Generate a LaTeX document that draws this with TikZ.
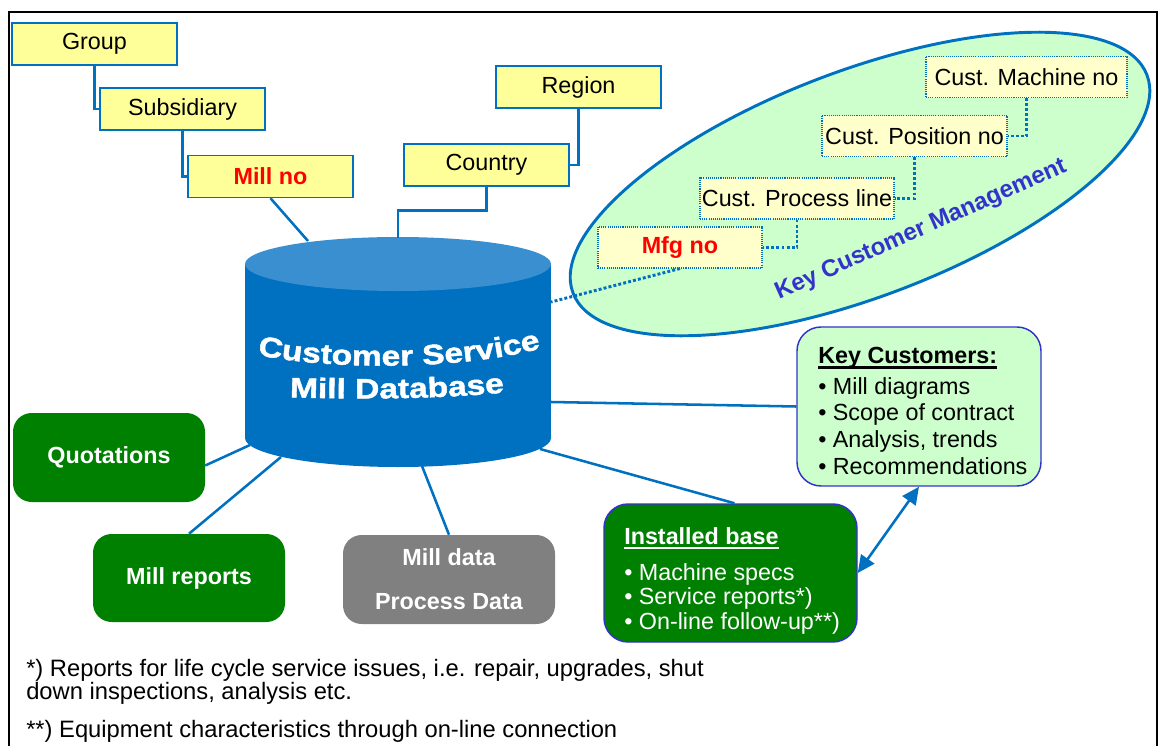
\documentclass[tikz,border=0pt]{standalone}
\usepackage{fontspec}
\setmainfont{Liberation Sans}
\newfontfamily\dbfont[FakeStretch=1.2,FakeBold=1.6]{Liberation Sans}
\usetikzlibrary{arrows.meta,decorations.text}

\definecolor{linkblue}{HTML}{0070C0}
\definecolor{dbtop}{HTML}{3A8FD0}
\definecolor{paleyellow}{HTML}{FFFF99}
\definecolor{creamyellow}{HTML}{FFFFCC}
\definecolor{mint}{HTML}{CCFFCC}
\definecolor{violetblue}{HTML}{3333CC}
\definecolor{leafgreen}{HTML}{008000}
\definecolor{stonegray}{HTML}{808080}

\newcommand\bodyfont{\fontsize{17.5}{21}\selectfont}
% bold title with a heavy underline
\newcommand\boxtitle[1]{\setbox0\hbox{\bfseries #1}\leavevmode\rlap{\rule[-3.8pt]{\wd0}{2pt}}\box0}

\begin{document}
\begin{tikzpicture}[x=0.75pt,y=-0.75pt,
  every node/.style={font=\bodyfont},
  link/.style={draw=linkblue,line width=1.9pt},
  dotlink/.style={draw=linkblue,line width=2.2pt,dash pattern=on 2.2pt off 1.6pt},
  levelbox/.style={draw=linkblue,line width=1.1pt,fill=paleyellow,
    minimum width=123.75pt,minimum height=31.5pt,inner sep=0pt},
  custbox/.style={draw=linkblue,line width=0.8pt,dash pattern=on 0.8pt off 0.8pt,
    fill=creamyellow,minimum height=30.75pt,inner sep=0pt},
  topic/.style={rounded corners=14pt,fill=leafgreen,text=white,
    font=\bodyfont\bfseries,inner sep=0pt},
  infobox/.style={rounded corners=18pt,draw=violetblue,line width=1.1pt,inner sep=0pt},
  twoway/.style={arrows={Triangle[length=13pt,width=12pt]-Triangle[length=13pt,width=12pt]}}
]
\useasboundingbox (0,0) rectangle (1158,746);

% outer frame
\draw[line width=2.2pt] (9,752) -- (9,12) -- (1157,12) -- (1157,752);

% key customer management area
\filldraw[fill=mint,draw=linkblue,line width=2.2pt,rotate around={20.8:(860,184)}]
  (860,184) ellipse [x radius=307,y radius=113];

% database cylinder
\fill[linkblue] (245,264) rectangle (551,438);
\fill[linkblue] (398,438) ellipse [x radius=153,y radius=29];
\fill[dbtop] (398,264) ellipse [x radius=153,y radius=27];
\path[decorate,decoration={text along path,text align=center,
  text={|\dbfont\bfseries\fontsize{21}{23}\selectfont\color{white}|Customer Service}}]
  (240,350) .. controls (300,370) and (470,374) .. (558,343);
\path[decorate,decoration={text along path,text align=center,
  text={|\dbfont\bfseries\fontsize{21}{23}\selectfont\color{white}|Mill Database}}]
  (258,396) .. controls (350,400) and (450,400) .. (536,389);

% points where links meet the cylinder
\coordinate (dbMill) at (308,241);
\coordinate (dbCountry) at (398,238);
\coordinate (dbMfg) at (551,302);
\coordinate (dbKey) at (551,402);
\coordinate (dbBase) at (540,449);
\coordinate (dbData) at (422,466);
\coordinate (dbReports) at (281,457);
\coordinate (dbQuot) at (250,445);

% organisation levels
\node[levelbox] (group) at (94.5,44) {Group};
\node[levelbox] (subsid) at (182.5,109) {Subsidiary};
\node[levelbox,text=red,font=\bodyfont\bfseries] (millno) at (270.5,176.5) {Mill no};
\node[levelbox] (region) at (578.5,87) {Region};
\node[levelbox] (country) at (486.5,165) {Country};

% customer levels
\node[custbox,minimum width=150.75pt] (mach) at (1026.5,77) {Cust. Machine no};
\node[custbox,minimum width=138.75pt] (pos) at (914.5,136) {Cust. Position no};
\node[custbox,minimum width=145.5pt] (proc) at (797,198.5) {Cust. Process line};
\node[custbox,minimum width=123pt,text=red,font=\bodyfont\bfseries] (mfg) at (680,247.5) {Mfg no};
\node[rotate=24,text=violetblue,font=\fontsize{18}{20}\selectfont\bfseries] (kcm) at (921,230) {Key Customer Management};

% data topics
\node[topic,minimum width=144pt,minimum height=66.75pt] (quot) at (109,457.5) {Quotations};
\node[topic,minimum width=144pt,minimum height=66pt] (mrep) at (189,578) {Mill reports};
\node[topic,fill=stonegray,minimum width=159pt,minimum height=66.75pt,align=center,
  font=\fontsize{17.5}{33}\selectfont\bfseries] (mdata) at (449,579.5) {Mill data\\Process Data};

% key customers and installed base
\node[infobox,fill=mint,minimum width=183pt,minimum height=119.25pt] (kc) at (919,406.5) {};
\node[anchor=north west,align=left,inner sep=0pt,font=\fontsize{17.5}{20}\selectfont]
  (kctext) at (818,347) {\boxtitle{Key Customers:}\\[3pt]
  • Mill diagrams\\ • Scope of contract\\ • Analysis, trends\\ • Recommendations};
\node[infobox,fill=leafgreen,minimum width=189.75pt,minimum height=103.5pt] (ib) at (730.5,573) {};
\node[anchor=north west,align=left,inner sep=0pt,text=white,font=\fontsize{17.5}{18.4}\selectfont]
  (ibtext) at (624,527) {\boxtitle{Installed base}\\[8.6pt]
  • Machine specs\\ • Service reports*)\\ • On-line follow-up**)};

% footnotes
\node[anchor=north west,align=left,inner sep=0pt,font=\fontsize{17.8}{17.25}\selectfont]
  (note1) at (26,659) {*) Reports for life cycle service issues, i.e. repair, upgrades, shut\\
  down inspections, analysis etc.};
\node[anchor=north west,inner sep=0pt,font=\fontsize{17.8}{21}\selectfont] (note2) at (26,720)
  {**) Equipment characteristics through on-line connection};

% hierarchy links
\draw[link] (group.south) |- (subsid.west);
\draw[link] (subsid.south) |- (millno.west);
\draw[link] (region.south) |- (country.east);
\draw[link] (country.south) -- ++(0,24) -| (dbCountry);
\draw[link] (millno.south) -- (dbMill);

\draw[dotlink] (mach.south) |- (pos.east);
\draw[dotlink] (pos.south) |- (proc.east);
\draw[dotlink] (proc.south) |- (mfg.east);
\draw[dotlink] (mfg.south) -- (dbMfg);

% database links
\draw[link] ([yshift=-6pt]quot.east) -- (dbQuot);
\draw[link] (mrep.north) -- (dbReports);
\draw[link] (mdata.north) -- (dbData);
\draw[link] ([xshift=3pt]ib.north) -- (dbBase);
\draw[link] (kc.west) -- (dbKey);
\draw[link,twoway] (ib.east) -- (kc.south);
\end{tikzpicture}
\end{document}
